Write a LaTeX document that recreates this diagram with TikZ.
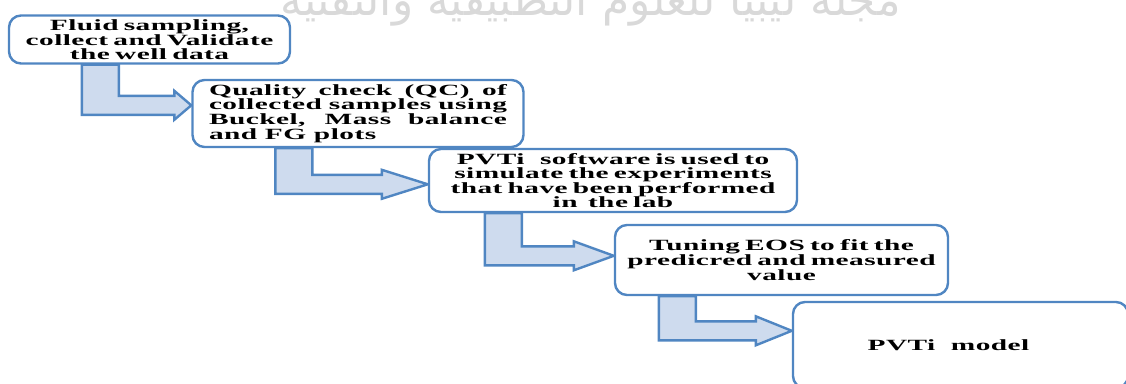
\documentclass[tikz,border=0pt]{standalone}
\usepackage{fontspec}
\newfontfamily\boxfont{Liberation Serif}[FakeStretch=1.88,LetterSpace=3]
\newfontfamily\arabicfont[Script=Arabic]{DejaVu Sans}
\TeXXeTstate=1
\usetikzlibrary{calc}
\usetikzlibrary{backgrounds}

\definecolor{boxblue}{RGB}{80,134,194}
\definecolor{arrowfill}{RGB}{206,219,238}

\tikzset{
  stepbox/.style={draw=boxblue, line width=2.4pt, rounded corners=12pt, fill=white,
    inner sep=0pt, align=center, font=\boxfont\bfseries\fontsize{15.6}{14.2}\selectfont},
  bendarrow/.style={draw=boxblue, line width=2.4pt, fill=arrowfill, line join=miter}
}

% bent block arrow: from, to, x offset, tip depth below to.north, head length
\newcommand{\bendarrow}[5]{%
  \draw[bendarrow] ($(#1.south west)+(#3,0)$) coordinate (p) -- ++(37,0)
    |- ($(#2.north west)+(-#5,#4-9.5)$) -- ++(0,-5)
    -- ($(#2.north west)+(0,#4)$)
    -- ($(#2.north west)+(-#5,#4+14.5)$) -- ++(0,-5)
    -| (p) -- cycle;}

\begin{document}
\begin{tikzpicture}[x=1pt,y=-1pt]
\useasboundingbox (0,0) rectangle (1126,383);

% watermark
\node[text=black!15, font=\arabicfont\fontsize{44}{44}\selectfont, anchor=base east] (wm)
  at (904,15) {\beginR مجلة ليبيا للعلوم التطبيقية والتقنية\endR};

\node[stepbox, minimum width=281, minimum height=48, text width=268] (b1) at (149.5,39.5)
  {Fluid sampling,\\ collect and Validate\\ the well data};
\node[stepbox, minimum width=331, minimum height=67, text width=298, align=justify] (b2) at (358,113.5)
  {Quality check (QC) of\linebreak collected samples using\linebreak Buckel, Mass balance\linebreak and FG plots};
\node[stepbox, minimum width=368, minimum height=63, text width=355] (b3) at (613,180.5)
  {PVTi\ \ \ software is used to\\ simulate the experiments\\ that have been performed\\ in\ \ the lab};
\node[stepbox, minimum width=333, minimum height=70, text width=320] (b4) at (781.5,260)
  {Tuning EOS to fit the\\ predicred and measured\\ value};
\node[stepbox, minimum width=335, minimum height=86, text width=320] (b5) at (960.5,345)
  {\hspace*{-24pt}PVTi\ \ \ model};

\begin{scope}[on background layer]
\bendarrow{b1}{b2}{74}{26.5}{17}
\bendarrow{b2}{b3}{84}{36.5}{46}
\bendarrow{b3}{b4}{57}{32}{40}
\bendarrow{b4}{b5}{45}{30}{36}
\end{scope}
\end{tikzpicture}
\end{document}
